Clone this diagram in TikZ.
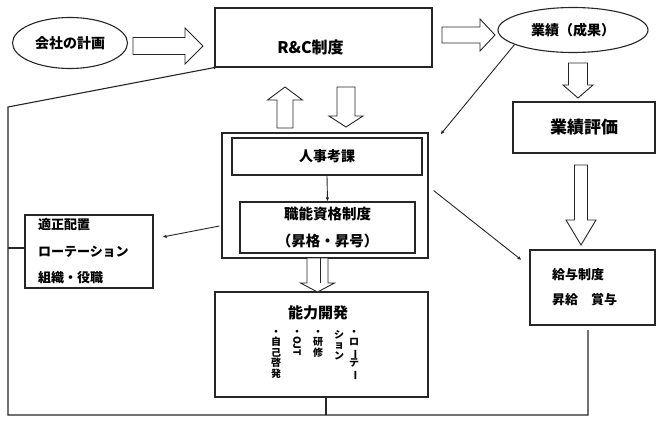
\documentclass[tikz,border=0pt]{standalone}
\usepackage{fontspec}
\setmainfont{Noto Sans CJK JP}
\usetikzlibrary{arrows.meta,shapes.geometric}
\newcommand\fsz[1]{\fontsize{#1}{#1}\selectfont\bfseries}
\newcommand\vbar{\rotatebox[origin=c]{-90}{ー}}
\begin{document}
\begin{tikzpicture}[x=1pt,y=-1pt,
  ln/.style={draw=black!85, line width=1.1pt},
  box/.style={ln, rectangle, inner sep=0pt},
  oval/.style={ln, ellipse, inner sep=0pt},
  conn/.style={draw=black!85, line width=0.9pt, -{Latex[length=4pt,width=3.5pt]}},
  blk/.style={draw=black!85, line width=0.9pt, fill=white},
  vcol/.style={anchor=north, align=center, inner sep=0pt, font=\fontsize{10}{10.5}\selectfont\bfseries},
  pics/blockarrow/.style n args={4}{code={\draw[blk] (0,-#2) -- ({#1-#4},-#2) -- ({#1-#4},-#3) -- (#1,0) -- ({#1-#4},#3) -- ({#1-#4},#2) -- (0,#2) -- cycle;}},
]
\useasboundingbox[fill=white] (0,0) rectangle (657,421);

% nodes
\node[oval, minimum width=115pt, minimum height=51pt, font=\fsz{14}] (keikaku) at (70,43) {会社の計画};
\node[box, minimum width=217pt, minimum height=59pt, font=\fsz{16}] (rc) at (323.5,37.5) {\hspace{-26pt}\raisebox{-16pt}[0pt][0pt]{R\&C制度}};
\node[oval, minimum width=150pt, minimum height=45pt, font=\fsz{14}] (seiseki) at (573,30) {業績（成果）};
\node[box, minimum width=142pt, minimum height=51pt, font=\fsz{17}] (hyouka) at (584,127.5) {業績評価};

\node[box, minimum width=206pt, minimum height=125pt] (outer) at (325,195.5) {};
\node[box, minimum width=190pt, minimum height=37pt, font=\fsz{14}] (jinji) at (327,156.5) {人事考課};
\node[box, minimum width=175pt, minimum height=51pt, align=center, font=\fontsize{14.5}{27}\selectfont\bfseries] (shokunou) at (327.5,227.5) {職能資格制度\\（昇格・昇号）};

\node[box, minimum width=213pt, minimum height=105pt] (nouryoku) at (321.5,344.5) {};
\node[inner sep=0pt, font=\fsz{15}] (nouryokut) at (318,313) {能力開発};
\node[vcol] (v1) at (354,330) {・\\ロ\\\vbar\\テ\\\vbar};
\node[vcol] (v2) at (339,330) {シ\\ョ\\ン};
\node[vcol] (v3) at (318,330) {・\\研\\修};
\node[vcol] (v4) at (297,330) {・\\\rotatebox[origin=c]{-90}{OJT}};
\node[vcol] (v5) at (276,330) {・\\自\\己\\啓\\発};

\node[box, minimum width=128pt, minimum height=73pt, text width=102pt, inner xsep=13pt, align=left, font=\fontsize{13}{26.5}\selectfont\bfseries] (haichi) at (89,251.5) {適正配置\\ローテーション\\組織・役職};
\node[box, minimum width=125pt, minimum height=75pt, text width=81pt, inner xsep=22pt, align=left, font=\fontsize{13}{25}\selectfont\bfseries] (kyuyo) at (592.5,287.5) {給与制度\\昇給　賞与};

% block arrows
\pic at (133,46) {blockarrow={70}{8.5}{18}{18}};
\pic at (442,35) {blockarrow={53}{8}{16}{15}};
\pic[rotate=-90] at (578,63) {blockarrow={35}{9.5}{15}{13}};
\pic[rotate=90] at (285,128) {blockarrow={41}{8}{17.5}{13}};
\pic[rotate=-90] at (346,87) {blockarrow={40}{9}{17}{11}};
\pic[rotate=-90] at (581,165) {blockarrow={80}{6.5}{15}{25}};
\pic[rotate=-90] at (317.5,258) {blockarrow={34}{10.5}{17}{9}};
\draw[blk] (320,258) -- (320,283);

% connectors
\draw[conn] (jinji.south) -- (shokunou.north);
\draw[conn] (seiseki.194) -- ([shift={(12,2)}]outer.north east);
\draw[conn] ([shift={(5,-5)}]outer.east) -- ([shift={(-8,-27.5)}]kyuyo.west);
\draw[conn] ([shift={(-2,30.5)}]outer.west) -- ([shift={(9,-14.5)}]haichi.east);

% feedback loop
\coordinate (c1) at (8,107);
\coordinate (c2) at (8,415);
\coordinate (c3) at (588,415);
\coordinate (c4) at (588,330);
\fill[black!85] (rc.south west) circle (1.6pt);
\draw[ln] (rc.south west) -- (c1) -- (c2) -- (c3) -- (c4);
\draw[ln] ([yshift=3.5]haichi.west) -- ([yshift=3.5]haichi.west -| c1);
\draw[ln] ([xshift=4.5]nouryoku.south) -- ([xshift=4.5]nouryoku.south |- c2);
\end{tikzpicture}
\end{document}
